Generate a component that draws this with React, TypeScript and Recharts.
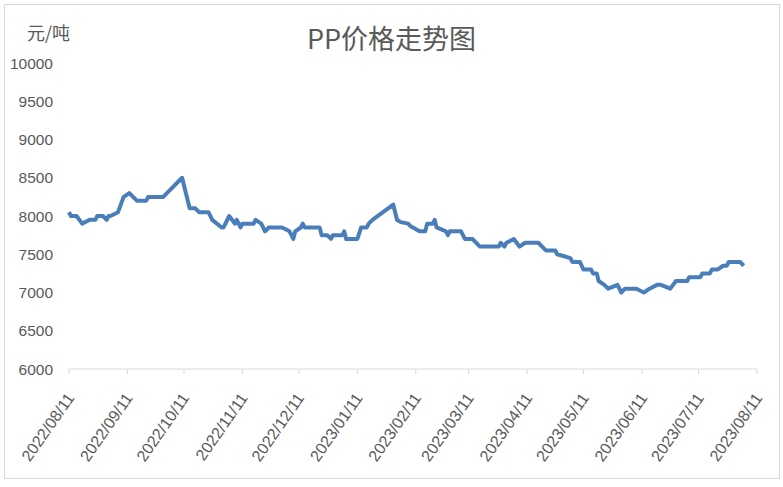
import React from "react";
import { LineChart, Line, XAxis, YAxis } from "recharts";

// PP price (元/吨)
const dates = [
  "2022-08-11", "2022-08-12", "2022-08-15", "2022-08-18", "2022-08-22", "2022-08-25", "2022-08-26",
  "2022-08-29", "2022-08-31", "2022-09-01", "2022-09-02", "2022-09-06", "2022-09-09", "2022-09-12",
  "2022-09-16", "2022-09-21", "2022-09-22", "2022-09-30", "2022-10-10", "2022-10-14", "2022-10-17",
  "2022-10-19", "2022-10-24", "2022-10-26", "2022-10-31", "2022-11-01", "2022-11-04", "2022-11-07",
  "2022-11-08", "2022-11-10", "2022-11-11", "2022-11-17", "2022-11-18", "2022-11-21", "2022-11-23",
  "2022-11-25", "2022-12-02", "2022-12-06", "2022-12-08", "2022-12-09", "2022-12-12", "2022-12-13",
  "2022-12-14", "2022-12-22", "2022-12-23", "2022-12-26", "2022-12-28", "2022-12-29", "2023-01-03",
  "2023-01-04", "2023-01-05", "2023-01-11", "2023-01-13", "2023-01-16", "2023-01-17", "2023-01-19",
  "2023-01-30", "2023-02-01", "2023-02-03", "2023-02-07", "2023-02-08", "2023-02-13", "2023-02-16",
  "2023-02-17", "2023-02-20", "2023-02-21", "2023-02-22", "2023-02-27", "2023-02-28", "2023-03-01",
  "2023-03-07", "2023-03-09", "2023-03-13", "2023-03-17", "2023-03-27", "2023-03-28", "2023-03-30",
  "2023-03-31", "2023-04-04", "2023-04-07", "2023-04-10", "2023-04-17", "2023-04-19", "2023-04-21",
  "2023-04-26", "2023-04-27", "2023-05-04", "2023-05-05", "2023-05-09", "2023-05-11", "2023-05-15",
  "2023-05-16", "2023-05-18", "2023-05-19", "2023-05-22", "2023-05-24", "2023-05-29", "2023-05-31",
  "2023-06-02", "2023-06-08", "2023-06-12", "2023-06-15", "2023-06-19", "2023-06-21", "2023-06-26",
  "2023-06-29", "2023-07-05", "2023-07-06", "2023-07-12", "2023-07-13", "2023-07-17", "2023-07-18",
  "2023-07-21", "2023-07-24", "2023-07-26", "2023-07-27", "2023-08-02", "2023-08-04",
];

const prices = [
  8050, 8000, 8000, 7900, 7950, 7950, 8000,
  8000, 7950, 8000, 8000, 8050, 8250, 8300,
  8200, 8200, 8250, 8250, 8500, 8100, 8100,
  8050, 8050, 7950, 7850, 7850, 8000, 7900,
  7950, 7850, 7900, 7900, 7950, 7900, 7800,
  7850, 7850, 7800, 7700, 7800, 7850, 7900,
  7850, 7850, 7750, 7750, 7700, 7750, 7750,
  7800, 7700, 7700, 7850, 7850, 7900, 7950,
  8150, 7950, 7920, 7900, 7870, 7800, 7800,
  7900, 7900, 7950, 7850, 7800, 7750, 7800,
  7800, 7700, 7700, 7600, 7600, 7650, 7600,
  7650, 7700, 7600, 7650, 7650, 7600, 7550,
  7550, 7500, 7450, 7400, 7400, 7300, 7300,
  7250, 7250, 7150, 7100, 7050, 7100, 7000,
  7050, 7050, 7000, 7050, 7100, 7100, 7050,
  7150, 7150, 7200, 7200, 7250, 7250, 7300,
  7300, 7350, 7350, 7400, 7400, 7350,
];

const xTicks = [
  "2022-08-11", "2022-09-11", "2022-10-11", "2022-11-11", "2022-12-11", "2023-01-11", "2023-02-11",
  "2023-03-11", "2023-04-11", "2023-05-11", "2023-06-11", "2023-07-11", "2023-08-11",
];

const yTicks = [6000, 6500, 7000, 7500, 8000, 8500, 9000, 9500, 10000];

const toTime = (s: string) => {
  const [y, m, d] = s.split("-").map(Number);
  return Date.UTC(y, m - 1, d);
};

const data = dates.map((d, i) => ({ t: toTime(d), price: prices[i] }));
const tickTimes = xTicks.map(toTime);

const fmt = (t: number) => {
  const d = new Date(t);
  const mm = String(d.getUTCMonth() + 1).padStart(2, "0");
  const dd = String(d.getUTCDate()).padStart(2, "0");
  return `${d.getUTCFullYear()}/${mm}/${dd}`;
};

const font = '"Liberation Sans", "Noto Sans CJK SC", sans-serif';
const grey = "#595959";

function DateTick({ x, y, payload }: any) {
  const ax = x + 6;
  const ay = y + 22;
  return (
    <text
      x={ax}
      y={ay}
      transform={`rotate(-55, ${ax}, ${ay})`}
      textAnchor="end"
      fill={grey}
      fontSize={16}
      fontFamily={font}
    >
      {fmt(payload.value)}
    </text>
  );
}

export default function App() {
  return (
    <div style={{ position: "relative", width: 783, height: 487, background: "#fff", fontFamily: font }}>
      <style>{`body{margin:0}`}</style>
      {/* chart frame */}
      <div
        style={{
          position: "absolute",
          left: 4,
          top: 4,
          width: 776,
          height: 475,
          border: "1px solid #d9d9d9",
          boxSizing: "border-box",
        }}
      />
      <div
        style={{
          position: "absolute",
          left: 0,
          width: 783,
          top: 20,
          textAlign: "center",
          fontSize: 27,
          color: grey,
          fontFamily: '"Noto Sans CJK SC", sans-serif',
          lineHeight: "36px",
        }}
      >
        PP价格走势图
      </div>
      <div
        style={{
          position: "absolute",
          left: 27,
          top: 20,
          fontSize: 18,
          color: grey,
          fontFamily: '"Noto Sans CJK SC", sans-serif',
          lineHeight: "24px",
        }}
      >
        元/吨
      </div>
      <div style={{ position: "absolute", left: 0, top: 0 }}>
        <LineChart width={783} height={487} data={data} margin={{ top: 63, right: 26, left: 0, bottom: 0 }}>
          <XAxis
            dataKey="t"
            type="number"
            scale="time"
            domain={[tickTimes[0], tickTimes[tickTimes.length - 1]]}
            ticks={tickTimes}
            tick={<DateTick />}
            height={118}
            axisLine={{ stroke: "#d9d9d9" }}
            tickLine={{ stroke: "#d9d9d9" }}
            tickSize={5}
            interval={0}
          />
          <YAxis
            domain={[6000, 10000]}
            ticks={yTicks}
            width={69}
            axisLine={false}
            tickLine={false}
            tickSize={0}
            tickMargin={16}
            tick={{ fill: grey, fontSize: 15.5, fontFamily: font }}
            interval={0}
          />
          <Line
            type="linear"
            dataKey="price"
            stroke="#4a7ebb"
            strokeWidth={4}
            strokeLinejoin="round"
            dot={false}
            isAnimationActive={false}
          />
        </LineChart>
      </div>
    </div>
  );
}
